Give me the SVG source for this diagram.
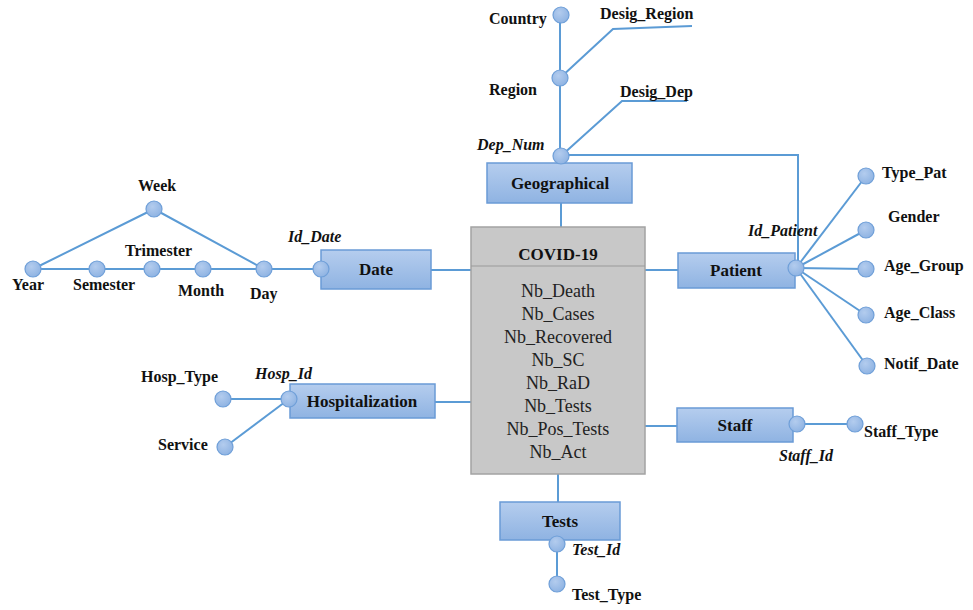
<svg xmlns="http://www.w3.org/2000/svg" width="973" height="610" viewBox="0 0 973 610">
  <defs>
    <linearGradient id="entityFill" x1="0" y1="0" x2="0" y2="1">
      <stop offset="0" stop-color="#b5cdee"/>
      <stop offset="1" stop-color="#8fb3e2"/>
    </linearGradient>
    <radialGradient id="attrFill" cx="0.4" cy="0.35" r="0.7">
      <stop offset="0" stop-color="#b3ccee"/>
      <stop offset="1" stop-color="#8db2e2"/>
    </radialGradient>
    <style>
      .link { stroke: #5b9bd5; stroke-width: 2; fill: none; }
      .entity { fill: url(#entityFill); stroke: #6a9bd6; stroke-width: 1.5; }
      .attr { fill: url(#attrFill); stroke: #6f9fd8; stroke-width: 1.2; }
      .ename { font-family: "Liberation Serif", serif; font-weight: bold; font-size: 17px; fill: #111; text-anchor: middle; }
      .lbl { font-family: "Liberation Serif", serif; font-weight: bold; font-size: 16px; fill: #111; }
      .key { font-family: "Liberation Serif", serif; font-weight: bold; font-style: italic; font-size: 16px; fill: #111; }
      .measure { font-family: "Liberation Serif", serif; font-size: 18px; fill: #222; text-anchor: middle; }
    </style>
  </defs>
  <rect width="973" height="610" fill="#ffffff"/>

  <!-- connectors -->
  <g id="connectors">
    <!-- geographical hierarchy -->
    <line class="link" x1="560" y1="15" x2="560" y2="156"/>
    <polyline class="link" points="560,78 613,29 692,26"/>
    <polyline class="link" points="561,156 622,101 687,101"/>
    <polyline class="link" points="561,155 798,155 798,262"/>
    <line class="link" x1="561" y1="203" x2="561" y2="227"/>
    <!-- date hierarchy -->
    <line class="link" x1="33" y1="269" x2="321" y2="269"/>
    <polyline class="link" points="33,269 154,209 264,269"/>
    <line class="link" x1="431" y1="270" x2="471" y2="270"/>
    <!-- patient -->
    <line class="link" x1="645" y1="270" x2="678" y2="270"/>
    <line class="link" x1="796" y1="268" x2="866" y2="176"/>
    <line class="link" x1="796" y1="268" x2="866" y2="230"/>
    <line class="link" x1="796" y1="268" x2="866" y2="269"/>
    <line class="link" x1="796" y1="268" x2="866" y2="315"/>
    <line class="link" x1="796" y1="268" x2="867" y2="366"/>
    <!-- hospitalization -->
    <line class="link" x1="435" y1="402" x2="471" y2="402"/>
    <line class="link" x1="223" y1="399" x2="289" y2="399"/>
    <line class="link" x1="225" y1="447" x2="289" y2="399"/>
    <!-- staff -->
    <line class="link" x1="645" y1="426" x2="677" y2="426"/>
    <line class="link" x1="797" y1="424" x2="855" y2="424"/>
    <!-- tests -->
    <line class="link" x1="558" y1="474" x2="558" y2="502"/>
    <line class="link" x1="557" y1="544" x2="557" y2="584"/>
  </g>

  <!-- fact table -->
  <g id="covid19">
    <rect x="471" y="227" width="174" height="247" fill="#c8c8c8" stroke="#a3a3a3" stroke-width="1.5"/>
    <line x1="471" y1="266" x2="645" y2="266" stroke="#999" stroke-width="1.2"/>
    <text x="558" y="260" class="ename">COVID-19</text>
    <text x="558" y="297" class="measure">Nb_Death</text>
    <text x="558" y="320" class="measure">Nb_Cases</text>
    <text x="558" y="343" class="measure">Nb_Recovered</text>
    <text x="558" y="366" class="measure">Nb_SC</text>
    <text x="558" y="389" class="measure">Nb_RaD</text>
    <text x="558" y="412" class="measure">Nb_Tests</text>
    <text x="558" y="435" class="measure">Nb_Pos_Tests</text>
    <text x="558" y="458" class="measure">Nb_Act</text>
  </g>

  <!-- geographical dimension -->
  <g id="geographical">
    <rect class="entity" x="487" y="163" width="145" height="40"/>
    <text x="560" y="189" class="ename">Geographical</text>
    <circle class="attr" cx="561" cy="156" r="8"/>
    <circle class="attr" cx="560" cy="78" r="8"/>
    <circle class="attr" cx="561" cy="15" r="8"/>
    <text x="477" y="150" class="key">Dep_Num</text>
    <text x="489" y="95" class="lbl">Region</text>
    <text x="489" y="24" class="lbl">Country</text>
    <text x="600" y="19" class="lbl">Desig_Region</text>
    <text x="620" y="97" class="lbl">Desig_Dep</text>
  </g>

  <!-- date dimension -->
  <g id="date">
    <rect class="entity" x="321" y="250" width="110" height="39"/>
    <text x="376" y="275" class="ename">Date</text>
    <circle class="attr" cx="321" cy="269" r="8"/>
    <circle class="attr" cx="264" cy="269" r="8"/>
    <circle class="attr" cx="203" cy="269" r="8"/>
    <circle class="attr" cx="152" cy="269" r="8"/>
    <circle class="attr" cx="97" cy="269" r="8"/>
    <circle class="attr" cx="33" cy="269" r="8"/>
    <circle class="attr" cx="154" cy="209" r="8"/>
    <text x="288" y="242" class="key">Id_Date</text>
    <text x="138" y="191" class="lbl">Week</text>
    <text x="125" y="256" class="lbl">Trimester</text>
    <text x="12" y="290" class="lbl">Year</text>
    <text x="73" y="290" class="lbl">Semester</text>
    <text x="178" y="296" class="lbl">Month</text>
    <text x="250" y="299" class="lbl">Day</text>
  </g>

  <!-- patient dimension -->
  <g id="patient">
    <rect class="entity" x="678" y="253" width="117" height="35"/>
    <text x="736" y="276" class="ename">Patient</text>
    <circle class="attr" cx="796" cy="268" r="8"/>
    <circle class="attr" cx="866" cy="176" r="8"/>
    <circle class="attr" cx="866" cy="230" r="8"/>
    <circle class="attr" cx="866" cy="269" r="8"/>
    <circle class="attr" cx="866" cy="315" r="8"/>
    <circle class="attr" cx="867" cy="366" r="8"/>
    <text x="748" y="236" class="key">Id_Patient</text>
    <text x="882" y="178" class="lbl">Type_Pat</text>
    <text x="888" y="222" class="lbl">Gender</text>
    <text x="884" y="271" class="lbl">Age_Group</text>
    <text x="884" y="318" class="lbl">Age_Class</text>
    <text x="884" y="369" class="lbl">Notif_Date</text>
  </g>

  <!-- hospitalization dimension -->
  <g id="hospitalization">
    <rect class="entity" x="290" y="384" width="145" height="34"/>
    <text x="362" y="407" class="ename">Hospitalization</text>
    <circle class="attr" cx="289" cy="399" r="8"/>
    <circle class="attr" cx="223" cy="399" r="8"/>
    <circle class="attr" cx="225" cy="447" r="8"/>
    <text x="255" y="379" class="key">Hosp_Id</text>
    <text x="141" y="382" class="lbl">Hosp_Type</text>
    <text x="158" y="450" class="lbl">Service</text>
  </g>

  <!-- staff dimension -->
  <g id="staff">
    <rect class="entity" x="677" y="408" width="116" height="34"/>
    <text x="735" y="431" class="ename">Staff</text>
    <circle class="attr" cx="797" cy="424" r="8"/>
    <circle class="attr" cx="855" cy="424" r="8"/>
    <text x="779" y="461" class="key">Staff_Id</text>
    <text x="864" y="437" class="lbl">Staff_Type</text>
  </g>

  <!-- tests dimension -->
  <g id="tests">
    <rect class="entity" x="500" y="502" width="120" height="38"/>
    <text x="560" y="527" class="ename">Tests</text>
    <circle class="attr" cx="557" cy="544" r="8"/>
    <circle class="attr" cx="557" cy="584" r="8"/>
    <text x="572" y="555" class="key">Test_Id</text>
    <text x="572" y="600" class="lbl">Test_Type</text>
  </g>
</svg>
